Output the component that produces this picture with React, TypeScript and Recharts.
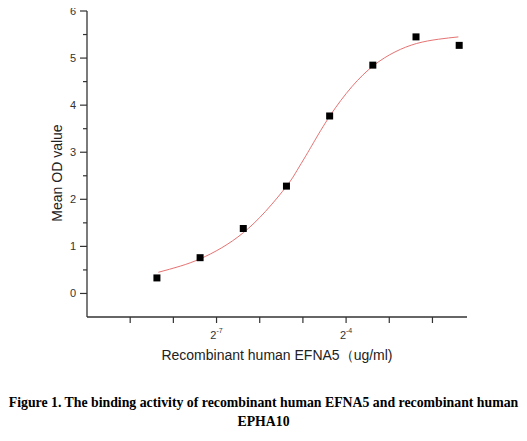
import { ComposedChart, Line, Scatter, XAxis, YAxis } from "recharts";

// measured points: concentration (ug/ml) vs mean OD
const CONC = [0.003, 0.006, 0.012, 0.024, 0.048, 0.096, 0.192, 0.384];
const OD = [0.33, 0.76, 1.38, 2.28, 3.77, 4.85, 5.45, 5.27];

// fitted curve
const FIT_CONC = [
  0.00307, 0.00436, 0.006, 0.00848, 0.012, 0.0171, 0.0242, 0.0284, 0.0324,
  0.037, 0.0484, 0.0685, 0.097, 0.137, 0.194, 0.275, 0.379,
];
const FIT_OD = [
  0.45, 0.58, 0.735, 0.97, 1.29, 1.74, 2.29, 2.61, 2.9, 3.2, 3.78, 4.39, 4.84,
  5.13, 5.31, 5.4, 5.45,
];

const X_TICKS = [
  0.001953125, 0.00390625, 0.0078125, 0.015625, 0.03125, 0.0625, 0.125, 0.25,
];
const X_LABELS = ["", "", "-7", "", "", "-4", "", ""];
const Y_TICKS = [0, 0.5, 1, 1.5, 2, 2.5, 3, 3.5, 4, 4.5, 5, 5.5, 6];

const points = CONC.map((c, i) => ({ conc: c, od: OD[i] }));
const fit = FIT_CONC.map((c, i) => ({ conc: c, od: FIT_OD[i] }));

const FONT = "'Liberation Sans', Arial, sans-serif";
const AXIS = "#333";

const XTick = ({ x, y, payload, index }: any) => {
  const i = X_TICKS.indexOf(payload.value);
  const exp = X_LABELS[i >= 0 ? i : index];
  return (
    <g>
      <line x1={x} x2={x} y1={y - 8} y2={y - 2} stroke={AXIS} strokeWidth={1.2} />
      {exp && (
        <text x={x} y={y + 14} fontSize={11} fontFamily={FONT} fill="#333" textAnchor="middle">
          <tspan>2</tspan>
          <tspan fontSize={7} dy={-6}>{exp}</tspan>
        </text>
      )}
    </g>
  );
};

const YTick = ({ x, y, payload }: any) => {
  const major = Number.isInteger(payload.value);
  return (
    <g>
      <line
        x1={x + 8 - (major ? 7 : 4)}
        x2={x + 8}
        y1={y}
        y2={y}
        stroke={AXIS}
        strokeWidth={1.2}
      />
      {major && (
        <text x={x - 3} y={y + 4} fontSize={11} fontFamily={FONT} fill="#333" textAnchor="end">
          {payload.value}
        </text>
      )}
    </g>
  );
};

const YLabel = ({ viewBox }: any) => {
  const cx = 57;
  const cy = viewBox.y + viewBox.height / 2 + 9;
  return (
    <text
      x={cx}
      y={cy}
      transform={`rotate(-90 ${cx} ${cy})`}
      textAnchor="middle"
      dominantBaseline="central"
      fontSize={14}
      fontFamily={FONT}
      fill="#222"
    >
      Mean OD value
    </text>
  );
};

const Square = ({ cx, cy }: any) => (
  <rect x={cx - 3.5} y={cy - 3.5} width={7} height={7} fill="#000" />
);

export default function App() {
  return (
    <div style={{ position: "relative", width: 527, height: 441, margin: -8, background: "#fff" }}>
      <ComposedChart width={527} height={441} margin={{ top: 11, right: 60, left: 0, bottom: 0 }}>
        <XAxis
          dataKey="conc"
          type="number"
          scale="log"
          domain={[0.0009765625, 0.4353]}
          ticks={X_TICKS}
          interval={0}
          tick={<XTick />}
          tickLine={false}
          allowDataOverflow
          height={124}
          axisLine={{ stroke: AXIS, strokeWidth: 1.3 }}
          label={{
            value: "Recombinant human EFNA5（ug/ml)",
            position: "insideTop",
            offset: 33,
            fontSize: 14,
            fontFamily: FONT,
            fill: "#222",
          }}
        />
        <YAxis
          dataKey="od"
          type="number"
          domain={[-0.5, 6]}
          ticks={Y_TICKS}
          interval={0}
          tick={<YTick />}
          tickLine={false}
          allowDataOverflow
          width={87}
          axisLine={{ stroke: AXIS, strokeWidth: 1.3 }}
          label={<YLabel />}
        />
        <Line
          data={fit}
          dataKey="od"
          type="natural"
          stroke="#e57373"
          strokeWidth={1}
          dot={false}
          isAnimationActive={false}
        />
        <Scatter data={points} dataKey="od" shape={<Square />} isAnimationActive={false} />
      </ComposedChart>
      <div
        style={{
          position: "absolute",
          left: 0,
          top: 393,
          width: 527,
          textAlign: "center",
          fontFamily: "'Liberation Serif', 'Times New Roman', serif",
          fontWeight: "bold",
          fontSize: 13.8,
          lineHeight: "19px",
          color: "#000",
        }}
      >
        Figure 1. The binding activity of recombinant human EFNA5 and recombinant human
        <br />
        EPHA10
      </div>
    </div>
  );
}
